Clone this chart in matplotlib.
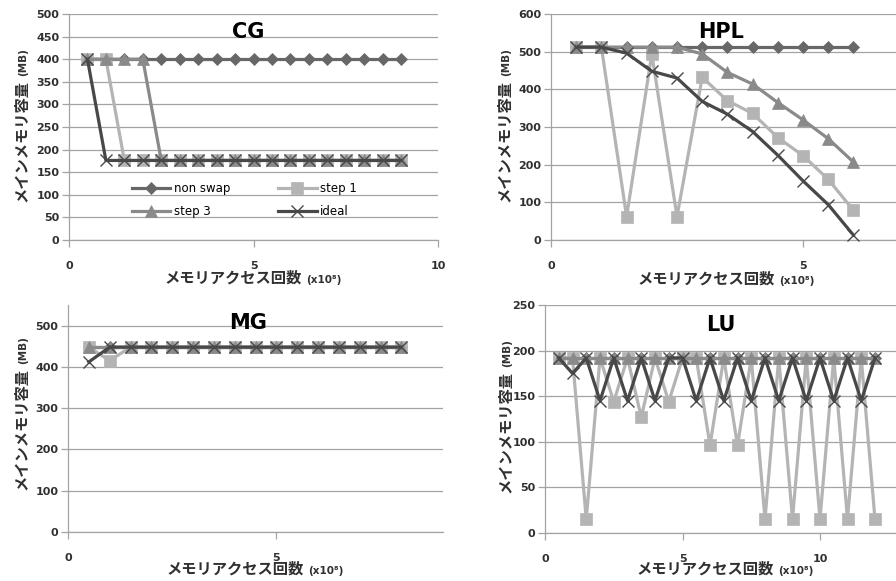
import matplotlib
matplotlib.use("Agg")
import matplotlib.pyplot as plt

plt.rcParams["font.family"] = ["DejaVu Sans", "Noto Sans CJK JP"]
plt.rcParams["font.weight"] = "bold"

W, H = 896, 581  # output size in pixels (dpi 100)

NON_COLOR = "#676767"
STEP1_COLOR = "#b4b4b4"
STEP3_COLOR = "#8a8a8a"
IDEAL_COLOR = "#484848"
GRID_COLOR = "#a3a3a3"
TEXT_COLOR = "#303030"

# --- data ----------------------------------------------------------------
CG_X = [0.5, 1.0, 1.5, 2.0, 2.5, 3.0, 3.5, 4.0, 4.5, 5.0, 5.5, 6.0, 6.5, 7.0, 7.5, 8.0, 8.5, 9.0]
CG_NON = [400, 400, 400, 400, 400, 400, 400, 400, 400, 400, 400, 400, 400, 400, 400, 400, 400, 400]
CG_STEP1 = [400, 400, 176, 176, 176, 176, 176, 176, 176, 176, 176, 176, 176, 176, 176, 176, 176, 176]
CG_STEP3 = [400, 400, 400, 400, 176, 176, 176, 176, 176, 176, 176, 176, 176, 176, 176, 176, 176, 176]
CG_IDEAL = [400, 176, 176, 176, 176, 176, 176, 176, 176, 176, 176, 176, 176, 176, 176, 176, 176, 176]

HPL_X = [0.5, 1.0, 1.5, 2.0, 2.5, 3.0, 3.5, 4.0, 4.5, 5.0, 5.5, 6.0]
HPL_NON = [512, 512, 512, 512, 512, 512, 512, 512, 512, 512, 512, 512]
HPL_STEP1 = [512, 512, 62, 494, 62, 432, 370, 336, 272, 224, 161, 79]
HPL_STEP3 = [512, 512, 512, 512, 512, 494, 445, 414, 365, 319, 269, 207]
HPL_IDEAL = [512, 512, 496, 448, 430, 368, 334, 288, 225, 157, 94, 13]

MG_X = [0.5, 1.0, 1.5, 2.0, 2.5, 3.0, 3.5, 4.0, 4.5, 5.0, 5.5, 6.0, 6.5, 7.0, 7.5, 8.0]
MG_NON = [448, 448, 448, 448, 448, 448, 448, 448, 448, 448, 448, 448, 448, 448, 448, 448]
MG_STEP1 = [448, 415, 448, 448, 448, 448, 448, 448, 448, 448, 448, 448, 448, 448, 448, 448]
MG_STEP3 = [448, 448, 448, 448, 448, 448, 448, 448, 448, 448, 448, 448, 448, 448, 448, 448]
MG_IDEAL = [412, 448, 448, 448, 448, 448, 448, 448, 448, 448, 448, 448, 448, 448, 448, 448]

LU_X = [0.5, 1.0, 1.5, 2.0, 2.5, 3.0, 3.5, 4.0, 4.5, 5.0, 5.5, 6.0,
        6.5, 7.0, 7.5, 8.0, 8.5, 9.0, 9.5, 10.0, 10.5, 11.0, 11.5, 12.0]
LU_NON = [192, 192, 192, 192, 192, 192, 192, 192, 192, 192, 192, 192,
          192, 192, 192, 192, 192, 192, 192, 192, 192, 192, 192, 192]
LU_STEP1 = [192, 192, 15, 192, 144, 192, 127, 192, 144, 192, 192, 96,
            192, 96, 192, 15, 192, 15, 192, 15, 192, 15, 192, 15]
LU_STEP3 = [192, 192, 192, 192, 192, 192, 192, 192, 192, 192, 192, 192,
            192, 192, 192, 192, 192, 192, 192, 192, 192, 192, 192, 192]
LU_IDEAL = [192, 175, 192, 145, 192, 145, 192, 145, 192, 192, 145, 192,
            145, 192, 145, 192, 145, 192, 145, 192, 145, 192, 145, 192]

SERIES_LABELS = ["non swap", "step 1", "step 3", "ideal"]

Y_LABEL = "メインメモリ容量"
Y_UNIT = "(MB)"
X_LABEL = "メモリアクセス回数"
X_UNIT = "(x10⁸)"

# series styles: marker, colour, marker size
STYLES = [("D", NON_COLOR, 6.5), ("s", STEP1_COLOR, 8.5), ("^", STEP3_COLOR, 8.5), ("x", IDEAL_COLOR, 8)]


def panel(fig, rect, x, ys, title, title_pos, xlim, xticks, ylim, yticks):
    ax = fig.add_axes(rect)
    for label, y, (marker, color, ms) in zip(SERIES_LABELS, ys, STYLES):
        ax.plot(x, y, marker=marker, color=color, lw=2.3, ms=ms, mfc=color, mec=color,
                mew=1.0 if marker == "x" else 0.5, label=label, clip_on=False, zorder=3)
    ax.set_xlim(*xlim)
    ax.set_ylim(*ylim)
    ax.set_xticks(xticks)
    ax.set_yticks(yticks)
    ax.yaxis.grid(True, color=GRID_COLOR, lw=0.9)
    ax.set_axisbelow(True)
    for side in ("top", "right"):
        ax.spines[side].set_visible(False)
    for side in ("left", "bottom"):
        ax.spines[side].set_color(GRID_COLOR)
        ax.spines[side].set_linewidth(0.9)
    ax.tick_params(axis="both", direction="out", length=5, width=0.9, color=GRID_COLOR,
                   labelsize=8, labelcolor=TEXT_COLOR)
    ax.tick_params(axis="x", pad=10)
    ax.tick_params(axis="y", pad=2)
    ax.text(title_pos[0], title_pos[1], title, transform=ax.transAxes, ha="center",
            va="center", fontsize=15, fontweight="bold", color="black", zorder=5)
    return ax


def two_part_label(fig, renderer, cx, cy, vertical):
    """Japanese label plus a smaller bold unit, centred on (cx, cy) in px from top-left."""
    main, unit = (Y_LABEL, Y_UNIT) if vertical else (X_LABEL, X_UNIT)
    rot = 90 if vertical else 0
    t1 = fig.text(0, 0, main, rotation=rot, rotation_mode="anchor", ha="left", va="baseline",
                  fontsize=11, fontweight="bold", color=TEXT_COLOR,
                  family=["Noto Sans CJK JP", "DejaVu Sans"])
    t2 = fig.text(0, 0, unit, rotation=rot, rotation_mode="anchor", ha="left", va="baseline",
                  fontsize=7.5, fontweight="bold", color=TEXT_COLOR, family=["DejaVu Sans"])
    e1 = t1.get_window_extent(renderer)
    e2 = t2.get_window_extent(renderer)
    gap = 4
    if vertical:
        l1, l2 = e1.height, e2.height
        total = l1 + gap + l2
        bx = cx + 6
        y0 = (H - cy) - total / 2
        t1.set_position((bx / W, y0 / H))
        t2.set_position((bx / W, (y0 + l1 + gap) / H))
    else:
        l1, l2 = e1.width, e2.width
        total = l1 + gap + l2
        by = H - (cy + 6)
        x0 = cx - total / 2
        t1.set_position((x0 / W, by / H))
        t2.set_position(((x0 + l1 + gap) / W, by / H))


fig = plt.figure(figsize=(W / 100, H / 100), dpi=100)

ax_cg = panel(fig, [69 / W, 341 / H, 369 / W, 226 / H], CG_X,
              [CG_NON, CG_STEP1, CG_STEP3, CG_IDEAL], "CG", (0.486, 0.92),
              (0, 10), [0, 5, 10], (0, 500), range(0, 501, 50))
panel(fig, [551 / W, 341 / H, 345 / W, 226 / H], HPL_X,
      [HPL_NON, HPL_STEP1, HPL_STEP3, HPL_IDEAL], "HPL", (0.493, 0.92),
      (0, 345 / 50.4), [0, 5], (0, 600), range(0, 601, 100))
panel(fig, [68 / W, 49 / H, 375 / W, 227 / H], MG_X,
      [MG_NON, MG_STEP1, MG_STEP3, MG_IDEAL], "MG", (0.48, 0.92),
      (0, 9.0), [0, 5], (0, 550), range(0, 501, 100))
panel(fig, [545 / W, 48 / H, 351 / W, 228 / H], LU_X,
      [LU_NON, LU_STEP1, LU_STEP3, LU_IDEAL], "LU", (0.50, 0.912),
      (0, 351 / 27.5), [0, 5, 10], (0, 250), range(0, 251, 50))

# legend fills column-wise: order so rows read "non swap, step 1" / "step 3, ideal"
handles, labels = ax_cg.get_legend_handles_labels()
order = [0, 2, 1, 3]
ax_cg.legend([handles[i] for i in order], [labels[i] for i in order], ncol=2, loc="center",
             bbox_to_anchor=(0.475, 0.175), frameon=False,
             prop={"size": 8.5, "weight": "normal"}, handlelength=3.3,
             columnspacing=4.0, labelspacing=0.85, handletextpad=0.3)

fig.canvas.draw()
renderer = fig.canvas.get_renderer()
for cx, cy in [(20, 125), (503, 125), (20, 413), (504, 416)]:
    two_part_label(fig, renderer, cx, cy, vertical=True)
for cx, cy in [(253, 277), (726, 278), (255, 568), (725, 568)]:
    two_part_label(fig, renderer, cx, cy, vertical=False)

fig.savefig("out.png", dpi=100)
